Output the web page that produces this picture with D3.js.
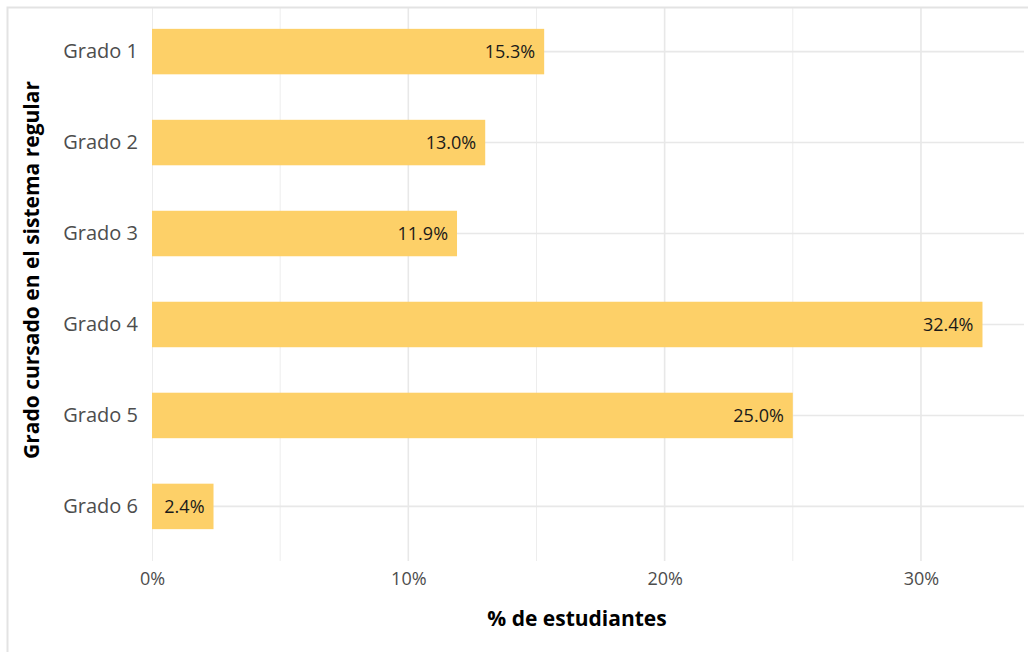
<!DOCTYPE html>
<html>
<head>
<meta charset="utf-8">
<script src="https://cdn.jsdelivr.net/npm/d3@7"></script>
<style>
  body { margin: 0; background: #fff; }
  svg { display: block; font-family: "Open Sans", sans-serif; }
</style>
</head>
<body>
<div class="js-chart"></div>
<script>
'use strict';

//categories and values (% of students)
var grades = ['Grado 1', 'Grado 2', 'Grado 3', 'Grado 4', 'Grado 5', 'Grado 6'];
var shares = [15.3, 13.0, 11.9, 32.4, 25.0, 2.4];
var majorTicks = [0, 10, 20, 30];
var minorTicks = [5, 15, 25];

var dim = { w: 1028, h: 652 };
var panel = { left: 152, right: 1024, top: -3, bottom: 561, clipTop: 7 };

var svg = d3.select('.js-chart').append('svg')
    .attr('width', dim.w)
    .attr('height', dim.h);

//x: bars start at 0, 5% padding at the right
var x = d3.scaleLinear()
    .domain([0, d3.max(shares) * 1.05])
    .range([panel.left, panel.right]);

//y: discrete scale with 0.6 unit expansion like ggplot
var step = (panel.bottom - panel.top) / (grades.length - 1 + 1.2);
var y = d3.scalePoint()
    .domain(grades)
    .range([panel.top + 0.6 * step, panel.bottom - 0.6 * step]);
var barH = step * 0.5;

svg.append('clipPath').attr('id', 'panel-clip')
    .append('rect')
    .attr('x', panel.left)
    .attr('y', panel.clipTop)
    .attr('width', panel.right - panel.left)
    .attr('height', panel.bottom - panel.clipTop);

var vis = svg.append('g').attr('clip-path', 'url(#panel-clip)');

//grid lines
vis.selectAll('.minor-x').data(minorTicks).enter().append('line')
    .attr('x1', x).attr('x2', x)
    .attr('y1', panel.top).attr('y2', panel.bottom)
    .style('stroke', '#ededed').style('stroke-width', 1);

vis.selectAll('.major-x').data(majorTicks).enter().append('line')
    .attr('x1', x).attr('x2', x)
    .attr('y1', panel.top).attr('y2', panel.bottom)
    .style('stroke', '#e8e8e8').style('stroke-width', 1.6);

vis.selectAll('.major-y').data(grades).enter().append('line')
    .attr('x1', panel.left).attr('x2', panel.right)
    .attr('y1', y).attr('y2', y)
    .style('stroke', '#e8e8e8').style('stroke-width', 1.6);

//bars
vis.selectAll('.bar').data(shares).enter().append('rect')
    .attr('x', x(0))
    .attr('y', function (d, i) { return y(grades[i]) - barH / 2; })
    .attr('width', function (d) { return x(d) - x(0); })
    .attr('height', barH)
    .style('fill', '#fdd068');

//value labels inside bar ends
svg.selectAll('.val').data(shares).enter().append('text')
    .text(function (d) { return d.toFixed(1) + '%'; })
    .attr('x', function (d) { return x(d) - 9; })
    .attr('y', function (d, i) { return y(grades[i]); })
    .attr('dy', '0.35em')
    .attr('text-anchor', 'end')
    .style('font-size', '18px')
    .style('fill', '#1a1a1a');

//axes
var xAxis = svg.append('g')
    .attr('transform', 'translate(0,' + panel.bottom + ')')
    .call(d3.axisBottom(x).tickValues(majorTicks)
        .tickFormat(function (d) { return d + '%'; })
        .tickSize(0).tickPadding(11));

var yAxis = svg.append('g')
    .attr('transform', 'translate(' + panel.left + ',0)')
    .call(d3.axisLeft(y).tickSize(0).tickPadding(14));

[xAxis, yAxis].forEach(function (ax) {
    ax.select('.domain').remove();
    ax.selectAll('text')
        .style('font-family', '"Open Sans", sans-serif')
        .style('fill', '#4d4d4d');
});
xAxis.selectAll('text').style('font-size', '18px');
yAxis.selectAll('text').style('font-size', '20px');

//axis titles
svg.append('text')
    .text('% de estudiantes')
    .attr('x', 577)
    .attr('y', 626)
    .attr('text-anchor', 'middle')
    .style('font-size', '21px')
    .style('font-weight', 'bold')
    .style('fill', '#000');

svg.append('text')
    .text('Grado cursado en el sistema regular')
    .attr('transform', 'translate(39,270) rotate(-90)')
    .attr('text-anchor', 'middle')
    .style('font-size', '21px')
    .style('font-weight', 'bold')
    .style('fill', '#000');

//outer frame (cropped)
svg.append('path')
    .attr('d', 'M7.5,' + dim.h + 'V7.5H' + dim.w)
    .style('fill', 'none')
    .style('stroke', '#e3e3e3')
    .style('stroke-width', 2);
</script>
</body>
</html>
